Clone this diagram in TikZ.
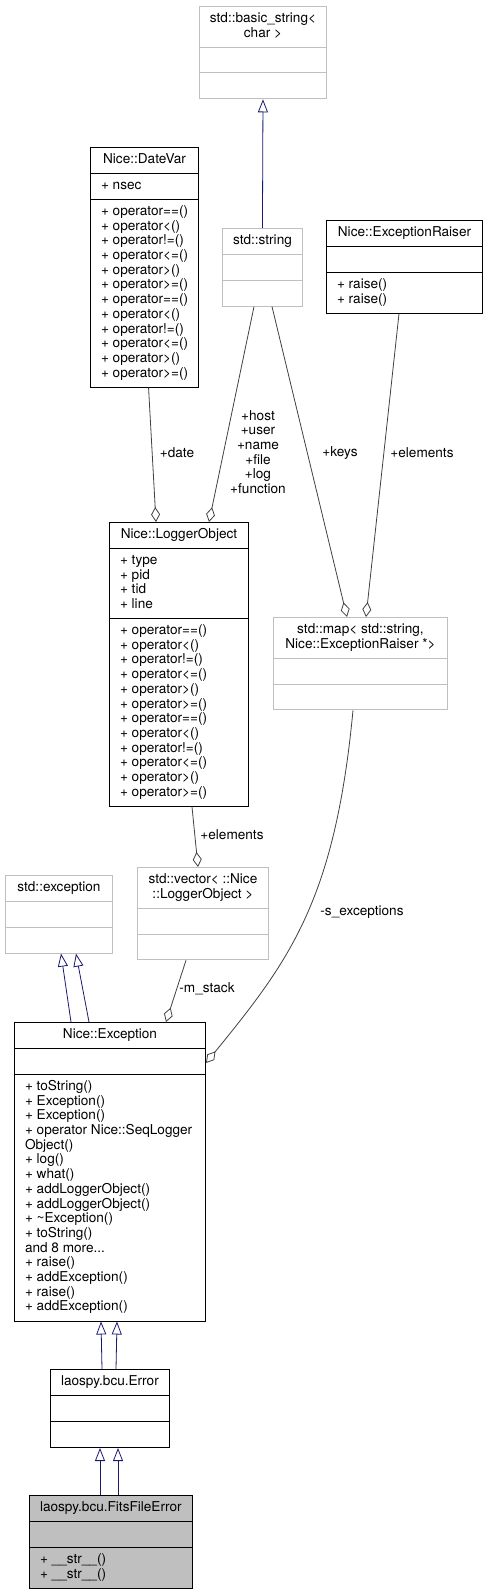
\documentclass[tikz,border=0pt]{standalone}
\usepackage{fontspec}
\setmainfont{TeX Gyre Heros}
\usetikzlibrary{shapes.multipart, arrows.meta, positioning}
\definecolor{grey75}{HTML}{BFBFBF}
\definecolor{grey25}{HTML}{404040}
\definecolor{midnight}{HTML}{191970}
\newcommand{\ctitle}[1]{\begin{tabular}{@{}c@{}}#1\end{tabular}}
\newcommand{\cmembers}[1]{\begin{tabular}{@{}l@{}}#1\end{tabular}}
\newcommand{\cempty}{\cmembers{\rule{0.1pt}{0pt}}}

\begin{document}
\begin{tikzpicture}
  [
    x=1pt, y=-1pt,
    font=\fontsize{13.6}{14.7}\selectfont,
    Class/.style={rectangle split, rectangle split parts=3, rectangle split part align={center, left, left},
      inner xsep=10.5pt, inner ysep=5.15pt, anchor=north west},
    Doc/.style={Class, draw=black, line width=1pt},
    Undoc/.style={Class, draw=grey75, line width=0.9pt},
    Current/.style={Doc, fill=grey75},
    Inherit/.style={draw=midnight, line width=0.8pt, {Triangle[open, length=13pt, width=10pt]}-},
    Uses/.style={draw=grey25, line width=0.8pt, -{Diamond[open, length=15pt, width=9pt]}},
    Lbl/.style={inner sep=0pt, align=center}
  ]
  \useasboundingbox (0,0) rectangle (487,1592);
  % Nodes
  \node[Undoc, minimum width=127pt] (bstr) at (199,6)
    {\ctitle{std::basic\_string<\\char >}\nodepart{two}\cempty\nodepart{three}\cempty};
  \node[Doc, minimum width=108pt] (datevar) at (90,147)
    {\ctitle{Nice::DateVar}\nodepart{two}\cmembers{+ nsec}\nodepart{three}\cmembers{+ operator==()\\+ operator<()\\+ operator!=()\\+ operator<=()\\+ operator>()\\+ operator>=()\\+ operator==()\\+ operator<()\\+ operator!=()\\+ operator<=()\\+ operator>()\\+ operator>=()}};
  \node[Undoc, minimum width=80pt] (string) at (222,228)
    {\ctitle{std::string}\nodepart{two}\cempty\nodepart{three}\cempty};
  \node[Doc, minimum width=156pt] (raiser) at (326,220)
    {\ctitle{Nice::ExceptionRaiser}\nodepart{two}\cempty\nodepart{three}\cmembers{+ raise()\\+ raise()}};
  \node[Doc, minimum width=139pt] (logger) at (109,522)
    {\ctitle{Nice::LoggerObject}\nodepart{two}\cmembers{+ type\\+ pid\\+ tid\\+ line}\nodepart{three}\cmembers{+ operator==()\\+ operator<()\\+ operator!=()\\+ operator<=()\\+ operator>()\\+ operator>=()\\+ operator==()\\+ operator<()\\+ operator!=()\\+ operator<=()\\+ operator>()\\+ operator>=()}};
  \node[Undoc, minimum width=174pt] (map) at (273,617)
    {\ctitle{std::map< std::string,\\ Nice::ExceptionRaiser *>}\nodepart{two}\cempty\nodepart{three}\cempty};
  \node[Undoc, minimum width=107pt] (stdexc) at (5,875)
    {\ctitle{std::exception}\nodepart{two}\cempty\nodepart{three}\cempty};
  \node[Undoc, minimum width=131pt] (vector) at (137,867)
    {\ctitle{std::vector< ::Nice\\::LoggerObject >}\nodepart{two}\cempty\nodepart{three}\cempty};
  \node[Doc, minimum width=191pt] (exc) at (14,1022)
    {\ctitle{Nice::Exception}\nodepart{two}\cempty\nodepart{three}\cmembers{+ toString()\\+ Exception()\\+ Exception()\\+ operator Nice::SeqLogger\\Object()\\+ log()\\+ what()\\+ addLoggerObject()\\+ addLoggerObject()\\+ \textasciitilde Exception()\\+ toString()\\and 8 more...\\+ raise()\\+ addException()\\+ raise()\\+ addException()}};
  \node[Doc, minimum width=118pt] (error) at (50,1369)
    {\ctitle{laospy.bcu.Error}\nodepart{two}\cempty\nodepart{three}\cempty};
  \node[Current, minimum width=160pt] (fits) at (29,1495)
    {\ctitle{laospy.bcu.FitsFileError}\nodepart{two}\cempty\nodepart{three}\cmembers{+ \_\_str\_\_()\\+ \_\_str\_\_()}};
  % Labels
  \node[Lbl] (lbldate) at (177,453) {+date};
  \node[Lbl] (lblstring) at (258,452) {+host\\+user\\+name\\+file\\+log\\+function};
  \node[Lbl] (lblkeys) at (340,453) {+keys};
  \node[Lbl] (lblelements) at (422,453) {+elements};
  \node[Lbl] (lblvector) at (232,835) {+elements};
  \node[Lbl] (lblstack) at (207,989) {-m\_stack};
  \node[Lbl] (lblsexc) at (362,912) {-s\_exceptions};
  % Lines
  \path [Inherit] (bstr.south) -- (string.north);
  \path [Uses] ([xshift=4pt]datevar.south) -- ([xshift=47pt]logger.north west);
  \path [Uses] ([xshift=32pt]string.south west) -- ([xshift=100pt]logger.north west);
  \path [Uses] ([xshift=50pt]string.south west) -- ([xshift=74pt]map.north west);
  \path [Uses] ([xshift=73pt]raiser.south west) -- ([xshift=93pt]map.north west);
  \path [Uses] ([xshift=83pt]logger.south west) -- ([xshift=61pt]vector.north west);
  \path [Inherit] ([xshift=56pt]stdexc.south west) -- ([xshift=57pt]exc.north west);
  \path [Inherit] ([xshift=71pt]stdexc.south west) -- ([xshift=75pt]exc.north west);
  \path [Uses] ([xshift=49pt]vector.south west) -- ([xshift=152pt]exc.north west);
  \path [Uses] ([xshift=80pt]map.south west) .. controls (335,900) and (290,960) .. ([yshift=-41pt]exc.north east);
  \path [Inherit] ([xshift=87pt]exc.south west) -- ([xshift=52pt]error.north west);
  \path [Inherit] ([xshift=103pt]exc.south west) -- ([xshift=66pt]error.north west);
  \path [Inherit] ([xshift=50pt]error.south west) -- ([xshift=71pt]fits.north west);
  \path [Inherit] ([xshift=68pt]error.south west) -- ([xshift=89pt]fits.north west);
\end{tikzpicture}
\end{document}
